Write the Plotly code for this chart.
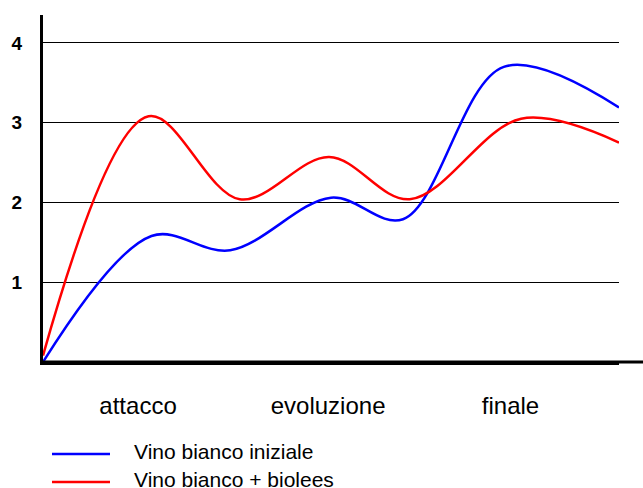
import plotly.graph_objects as go

# Data
categories = ["attacco", "evoluzione", "finale"]
category_pos = [0.99, 2.97, 4.87]

series_names = ["Vino bianco iniziale", "Vino bianco + biolees"]
blue_x = [0, 1.13, 1.95, 3.0, 3.75, 4.8, 6.0]
blue_y = [0, 1.58, 1.40, 2.06, 1.79, 3.70, 3.19]
red_x = [0, 1.1, 2.05, 2.98, 3.82, 4.98, 6.0]
red_y = [0.08, 3.08, 2.04, 2.57, 2.04, 3.05, 2.75]
y_ticks = [1, 2, 3, 4]

colors = ["#0000FF", "#FF0000"]

fig = go.Figure()
fig.add_trace(go.Scatter(x=blue_x, y=blue_y, mode="lines", name=series_names[0],
                         line=dict(color=colors[0], width=2.5, shape="spline", smoothing=1.0)))
fig.add_trace(go.Scatter(x=red_x, y=red_y, mode="lines", name=series_names[1],
                         line=dict(color=colors[1], width=2.5, shape="spline", smoothing=1.0)))

W, H = 643, 488
L, R, T, B = 43, 24, 15, 126
pw, ph = W - L - R, H - T - B

fig.update_layout(
    width=W, height=H,
    margin=dict(l=L, r=R, t=T, b=B, autoexpand=False),
    plot_bgcolor="white", paper_bgcolor="white",
    showlegend=False,
    font=dict(family="Liberation Sans, Arial, sans-serif", color="black"),
    xaxis=dict(range=[0, 6], tickvals=category_pos, ticktext=categories,
               showgrid=False, zeroline=False, showline=True, linecolor="black",
               linewidth=3, ticks="", tickfont=dict(size=24), ticklabelstandoff=20,
               automargin=False),
    yaxis=dict(range=[0, 4.35], tickvals=y_ticks, showgrid=True, gridcolor="black",
               gridwidth=1, zeroline=False, showline=True, linecolor="black",
               linewidth=3, ticks="", tickfont=dict(size=19, family="Liberation Sans, Arial", weight="bold"),
               ticklabelstandoff=14, automargin=False),
)

# extend bottom axis to the right edge
fig.add_shape(type="line", xref="paper", yref="paper", x0=0, x1=(W - L) / pw + 0.01,
              y0=0, y1=0, line=dict(color="black", width=3))

# manual legend
legend_rows = [454, 482]
for name, col, py in zip(series_names, colors, legend_rows):
    yp = (H - B - py) / ph
    fig.add_shape(type="line", xref="paper", yref="paper",
                  x0=(52 - L) / pw, x1=(110 - L) / pw, y0=yp, y1=yp,
                  line=dict(color=col, width=2.5))
    fig.add_annotation(xref="paper", yref="paper", x=(132 - L) / pw, y=yp + 3 / ph,
                       xanchor="left", yanchor="middle", text=name, showarrow=False,
                       font=dict(size=21, color="black"))

fig.write_html("out.html", config={"displayModeBar": False},
               post_script="document.body.style.margin='0';document.body.style.padding='0';"
                           "document.documentElement.style.overflow='hidden';")
